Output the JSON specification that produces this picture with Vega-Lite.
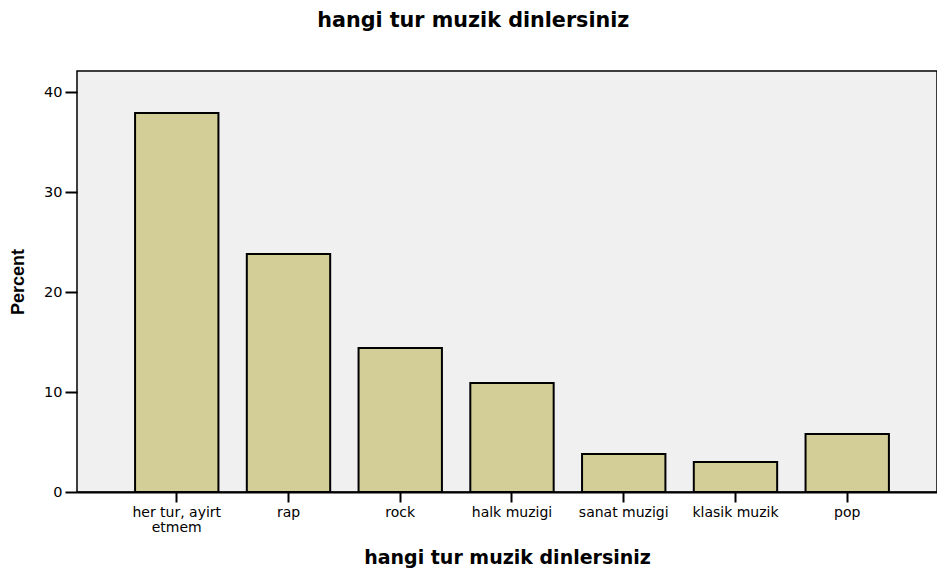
{
  "$schema": "https://vega.github.io/schema/vega-lite/v6.json",
  "width": 860,
  "height": 421,
  "autosize": {"type": "none"},
  "padding": {"left": 77, "top": 71, "right": 0, "bottom": 80},
  "background": "white",
  "title": {
    "text": "hangi tur muzik dinlersiniz",
    "font": "DejaVu Sans",
    "fontSize": 20.7,
    "fontWeight": "bold",
    "color": "black",
    "anchor": "middle",
    "frame": "bounds",
    "offset": 39
  },
  "data": {
    "values": [
      {"tur": "her tur, ayirt etmem", "percent": 37.9},
      {"tur": "rap", "percent": 23.8},
      {"tur": "rock", "percent": 14.4},
      {"tur": "halk muzigi", "percent": 10.9},
      {"tur": "sanat muzigi", "percent": 3.8},
      {"tur": "klasik muzik", "percent": 3.0},
      {"tur": "pop", "percent": 5.8}
    ]
  },
  "mark": {"type": "bar", "fill": "#D3CE98", "stroke": "black", "strokeWidth": 2},
  "encoding": {
    "x": {
      "field": "tur",
      "type": "nominal",
      "sort": null,
      "scale": {"paddingInner": 0.254, "paddingOuter": 0.475, "align": 0.547},
      "axis": {
        "title": "hangi tur muzik dinlersiniz",
        "titleFont": "DejaVu Sans",
        "titleFontSize": 19,
        "titleFontWeight": "bold",
        "titleColor": "black",
        "titlePadding": 14,
        "labelAngle": 0,
        "labelFont": "DejaVu Sans",
        "labelFontSize": 14,
        "labelColor": "black",
        "labelPadding": 3,
        "labelLineHeight": 15,
        "labelExpr": "datum.label == 'her tur, ayirt etmem' ? ['her tur, ayirt', 'etmem'] : datum.label",
        "tickSize": 10,
        "tickColor": "black",
        "tickWidth": 2,
        "domainColor": "black",
        "domainWidth": 2
      }
    },
    "y": {
      "field": "percent",
      "type": "quantitative",
      "scale": {"domain": [0, 42.1], "nice": false},
      "axis": {
        "title": "Percent",
        "titleFont": "Liberation Sans",
        "titleFontSize": 18,
        "titleFontWeight": "bold",
        "titleColor": "black",
        "titlePadding": 16,
        "values": [0, 10, 20, 30, 40],
        "grid": false,
        "labelFont": "DejaVu Sans",
        "labelFontSize": 14.5,
        "labelColor": "black",
        "labelPadding": 3,
        "tickSize": 12,
        "tickColor": "black",
        "tickWidth": 2,
        "domain": false
      }
    }
  },
  "config": {
    "view": {"fill": "#F0F0F0", "stroke": "black", "strokeWidth": 1.5}
  }
}
